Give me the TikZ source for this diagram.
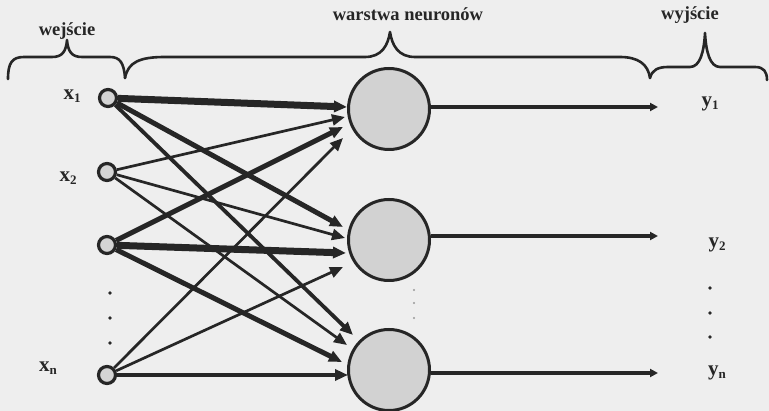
\documentclass[tikz,border=0pt]{standalone}
\usepackage{fontspec}
\setmainfont{Liberation Serif}
\usetikzlibrary{arrows.meta,calc}
\definecolor{ink}{RGB}{38,38,38}
\definecolor{bg}{RGB}{238,238,238}
\definecolor{cellfill}{RGB}{210,210,210}
\definecolor{infill}{RGB}{212,212,212}
\newcommand{\mylab}[2]{#1\raisebox{-0.3ex}{\fontsize{13}{13}\selectfont #2}}
\begin{document}
\begin{tikzpicture}[x=1pt,y=-1pt,
  inp/.style={circle, draw=ink, line width=3.2pt, fill=infill, minimum size=17pt, inner sep=0pt},
  neuron/.style={circle, draw=ink, line width=3pt, fill=cellfill, minimum size=81pt, inner sep=0pt},
  conn/.style={draw=ink, -{Triangle[length=13pt,width=11pt]}},
  thinc/.style={conn, line width=2.7pt},
  medc/.style={conn, line width=3.8pt},
  thickc/.style={conn, line width=5pt},
  vthickc/.style={conn, line width=7pt},
  outarrow/.style={draw=ink, line width=3.4pt, -{Triangle[length=8pt,width=8pt]}},
  brace/.style={draw=ink, line width=2.6pt, line cap=round, line join=round},
  lbl/.style={font=\fontsize{21}{21}\selectfont\bfseries, text=ink, inner sep=0pt},
  head/.style={font=\fontsize{18.5}{18.5}\selectfont\bfseries, text=ink, inner sep=0pt},
  dotn/.style={circle, fill=ink, inner sep=0pt, minimum size=3.8pt},
  faintdot/.style={circle, fill=gray!80, inner sep=0pt, minimum size=2.4pt}
]
\useasboundingbox (0,0) rectangle (769,411);
\fill[bg] (0,0) rectangle (769,411);

% braces
\draw[brace] (8,79) .. controls (8,63) and (12,57) .. (24,57) -- (52,57)
  .. controls (62,57) and (66,52) .. (67,40)
  .. controls (68,52) and (72,57) .. (82,57) -- (110,57)
  .. controls (120,57) and (124,63) .. (125,78);
\draw[brace] (125,78) .. controls (128,62) and (140,57) .. (165,57) -- (365,57)
  .. controls (382,57) and (388,45) .. (390,32)
  .. controls (392,45) and (398,57) .. (415,57) -- (620,57)
  .. controls (638,57) and (648,64) .. (650,78);
\draw[brace] (650,78) .. controls (652,70) and (658,67) .. (668,67) -- (690,67)
  .. controls (700,67) and (704,52) .. (705,33)
  .. controls (706,52) and (710,67) .. (720,67) -- (755,67)
  .. controls (764,67) and (767,72) .. (767,80);

% headers
\node[head] (hin) at (67,31) {wejście};
\node[head] (hmid) at (408,14) {warstwa neuronów};
\node[head] (hout) at (690,15) {wyjście};

% neurons
\node[neuron] (n1) at (389,109) {};
\node[neuron] (n2) at (389,240) {};
\node[neuron] (n3) at (389,370) {};

% inputs
\node[inp] (i1) at (108,98) {};
\node[inp] (i2) at (107,172) {};
\node[inp] (i3) at (107,245) {};
\node[inp] (i4) at (107,375) {};

% arrow end points
\coordinate (e11) at ($(n1.west)+(0,-2)$);
\coordinate (e21) at ($(n1.west)+(-2,8)$);
\coordinate (e31) at ($(n1.west)+(-4,18)$);
\coordinate (e41) at ($(n1.west)+(-4,29)$);
\coordinate (e12) at ($(n2.west)+(-4,-13)$);
\coordinate (e22) at ($(n2.west)+(-2,-2)$);
\coordinate (e32) at ($(n2.west)+(-1,13)$);
\coordinate (e42) at ($(n2.west)+(-4,27)$);
\coordinate (e13) at ($(n3.west)+(6,-35)$);
\coordinate (e23) at ($(n3.west)+(0,-25)$);
\coordinate (e33) at ($(n3.west)+(-5,-8)$);
\coordinate (e43) at (348,375);

% connections
\draw[thinc] (i2) -- (e21);
\draw[thinc] (i2) -- (e22);
\draw[thinc] (i2) -- (e23);
\draw[thinc] (i4) -- (e41);
\draw[thinc] (i4) -- (e42);
\draw[medc] (i4) -- (e43);
\draw[medc] (i1) -- (e13);
\draw[thickc] (i1) -- (e12);
\draw[thickc] (i3) -- (e31);
\draw[thickc] (i3) -- (e33);
\draw[vthickc] (i3) -- (e32);
\draw[vthickc] (i1) -- (e11);

% outputs
\coordinate (o1) at (658,107);
\coordinate (o2) at (658,236);
\coordinate (o3) at (658,373);
\draw[outarrow] (n1.east |- o1) -- (o1);
\draw[outarrow] (n2.east |- o2) -- (o2);
\draw[outarrow] (n3.east |- o3) -- (o3);

% labels
\node[lbl] (lx1) at (72,96) {\mylab{x}{1}};
\node[lbl] (lx2) at (68,178) {\mylab{x}{2}};
\node[lbl] (lxn) at (48,368) {\mylab{x}{n}};
\node[lbl] (ly1) at (710,104) {\mylab{y}{1}};
\node[lbl] (ly2) at (717,245) {\mylab{y}{2}};
\node[lbl] (lyn) at (717,373) {\mylab{y}{n}};

% dots
\node[dotn] (d1) at (110,293) {};
\node[dotn] (d2) at (110,318) {};
\node[dotn] (d3) at (110,343) {};
\node[dotn] (d4) at (710,288) {};
\node[dotn] (d5) at (710,313) {};
\node[dotn] (d6) at (710,337) {};
\node[faintdot] (f1) at (414,290) {};
\node[faintdot] (f2) at (414,303) {};
\node[faintdot] (f3) at (414,318) {};
\end{tikzpicture}
\end{document}
